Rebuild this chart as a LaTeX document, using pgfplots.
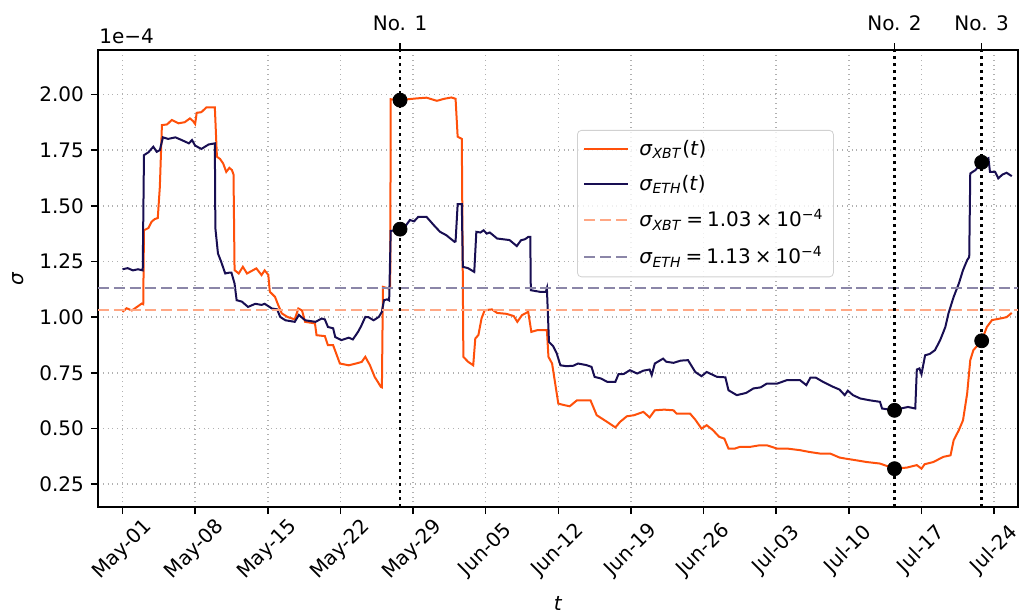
\documentclass[border=0pt]{standalone}
\usepackage{fontspec}
\setmainfont{DejaVu Sans}
\usepackage{pgfplots}
\pgfplotsset{compat=1.18}
\usetikzlibrary{calc}
\definecolor{xbt}{RGB}{255,80,10}
\definecolor{eth}{RGB}{24,14,82}
\definecolor{xbtl}{RGB}{255,167,132}
\definecolor{ethl}{RGB}{139,134,168}
\definecolor{gridc}{RGB}{176,176,176}
\newcommand{\sig}{\textit{σ}}
\newcommand{\eqs}{\hspace{0.2em}=\hspace{0.2em}}
\newcommand{\tms}{\hspace{0.2em}×\hspace{0.2em}}
\begin{document}
\begin{tikzpicture}
\begin{axis}[
  scale only axis, width=460pt, height=228.5pt,
  xmin=-2.36, xmax=86.3, ymin=0.148, ymax=2.199,
  clip=false,
  axis line style={line width=0.8pt},
  tick align=outside, major tick length=3.5pt,
  tick style={line width=0.8pt, black},
  xtick={0,7,14,21,28,35,42,49,56,63,70,77,84},
  xticklabels={May-01,May-08,May-15,May-22,May-29,Jun-05,Jun-12,Jun-19,Jun-26,Jul-03,Jul-10,Jul-17,Jul-24},
  xtick pos=bottom, ytick pos=left,
  ytick={0.25,0.5,0.75,1,1.25,1.5,1.75,2},
  yticklabel style={/pgf/number format/.cd, fixed, fixed zerofill, precision=2, assume math mode=true},
  xticklabel style={rotate=45, anchor=center, font=\normalsize},
  xticklabel shift=18pt,
  grid=major,
  grid style={dotted, gridc, line width=0.8pt},
  legend style={at={(axis description cs:0.5207,0.825)}, anchor=north west,
    draw=black!18, rounded corners=2pt, fill=white, fill opacity=0.8, text opacity=1,
    font=\normalsize, row sep=4.2pt, inner sep=3pt},
  legend cell align=left,
  legend image code/.code={\draw[#1] (0pt,0pt) -- (22pt,0pt); \path (25pt,0pt);},
]
\addplot[xbt, line width=1pt] coordinates {
(0,1.024) (0.4,1.04) (0.9,1.03) (1.4,1.046) (1.85,1.061) (2.0,1.058) (2.07,1.39) (2.5,1.40) (2.8,1.428) (3.1,1.44) (3.4,1.445) (3.6,1.585) (3.8,1.862) (4.3,1.865) (4.75,1.885) (5.4,1.87) (6.0,1.875) (6.5,1.892) (6.8,1.88) (7.0,1.867) (7.15,1.917) (7.6,1.92) (8.1,1.942) (8.9,1.942) (9.1,1.72) (9.4,1.71) (9.7,1.69) (10.0,1.652) (10.3,1.67) (10.55,1.66) (10.7,1.64) (10.8,1.211) (11.2,1.196) (11.6,1.226) (12.0,1.196) (12.9,1.219) (13.4,1.189) (13.7,1.21) (14.05,1.19) (14.2,1.114) (14.7,1.091) (14.95,1.061) (15.35,1.017) (15.9,1.001) (16.6,0.99) (16.95,1.039) (17.3,1.03) (17.6,0.979) (18.55,0.972) (18.7,0.919) (19.5,0.915) (19.8,0.874) (20.3,0.874) (20.95,0.792) (21.8,0.784) (22.5,0.792) (23.05,0.799) (23.4,0.822) (23.85,0.784) (24.3,0.732) (24.6,0.71) (24.9,0.687) (25.0,0.685) (25.1,1.136) (25.6,1.129) (25.8,1.13) (25.85,1.978) (26.75,1.974) (27.5,1.978) (28.4,1.982) (29.3,1.985) (30.3,1.971) (31.0,1.98) (31.7,1.986) (32.1,1.98) (32.3,1.81) (32.7,1.80) (32.85,0.822) (33.3,0.80) (33.8,0.784) (34.0,0.904) (34.3,0.92) (34.6,0.994) (34.9,1.031) (35.6,1.035) (36.1,1.019) (37.0,1.015) (37.7,1.005) (38.05,0.979) (38.5,1.009) (39.1,1.024) (39.4,0.934) (40.0,0.942) (40.9,0.942) (41.05,0.822) (41.4,0.792) (41.7,0.702) (42.0,0.612) (42.6,0.605) (43.1,0.60) (43.8,0.627) (45.1,0.627) (45.7,0.56) (46.7,0.53) (47.5,0.505) (47.95,0.53) (48.6,0.555) (49.3,0.56) (50.2,0.575) (50.8,0.55) (51.3,0.582) (52.2,0.585) (53.1,0.582) (53.4,0.567) (54.7,0.567) (55.2,0.54) (55.8,0.50) (56.3,0.515) (56.9,0.493) (57.5,0.463) (58.0,0.455) (58.4,0.41) (59.0,0.41) (59.5,0.418) (60.5,0.418) (61.4,0.425) (62.1,0.425) (63.1,0.41) (64.1,0.41) (65.3,0.403) (66.2,0.395) (67.2,0.388) (68.2,0.388) (69.1,0.37) (69.7,0.365) (70.4,0.36) (71.7,0.35) (73.0,0.343) (74.4,0.32) (75.6,0.325) (76.55,0.336) (77.0,0.32) (77.3,0.34) (78.15,0.35) (79.1,0.373) (79.8,0.38) (80.1,0.448) (80.6,0.493) (81.0,0.537) (81.4,0.657) (81.7,0.807) (82.0,0.852) (82.8,0.894) (83.3,0.956) (83.8,0.987) (84.6,0.994) (85.2,1.0) (85.7,1.019)
};
\addlegendentry{\sig\textsubscript{\textit{XBT}}(\textit{t})}
\addplot[eth, line width=1pt] coordinates {
(0,1.215) (0.5,1.22) (1.0,1.21) (1.5,1.215) (1.95,1.21) (2.07,1.727) (2.5,1.74) (2.97,1.765) (3.3,1.742) (3.6,1.75) (3.9,1.807) (4.4,1.80) (5.1,1.807) (5.7,1.795) (6.4,1.78) (6.7,1.795) (7.0,1.77) (7.6,1.755) (8.3,1.775) (8.9,1.78) (8.95,1.40) (9.2,1.286) (9.5,1.25) (9.9,1.196) (10.3,1.20) (10.5,1.20) (10.8,1.151) (11.0,1.076) (11.5,1.07) (12.1,1.046) (12.8,1.06) (13.4,1.055) (13.7,1.06) (14.4,1.039) (14.9,1.035) (15.2,1.001) (15.7,0.986) (16.6,0.979) (17.0,1.01) (17.6,0.986) (18.6,0.979) (19.2,0.994) (19.5,0.99) (19.8,0.956) (20.3,0.95) (20.5,0.911) (21.1,0.897) (21.8,0.908) (22.2,0.90) (22.7,0.934) (23.0,0.96) (23.4,1.001) (23.7,1.0) (24.2,0.986) (24.7,1.001) (25.0,1.024) (25.2,1.076) (25.5,1.08) (25.7,1.075) (25.85,1.387) (26.3,1.39) (26.75,1.395) (27.1,1.398) (27.7,1.436) (28.1,1.43) (28.5,1.45) (29.3,1.45) (30.0,1.413) (30.6,1.383) (31.2,1.368) (32.0,1.338) (32.1,1.34) (32.3,1.507) (32.7,1.507) (32.8,1.226) (33.3,1.22) (33.9,1.203) (34.1,1.383) (34.5,1.38) (34.8,1.39) (35.1,1.375) (35.4,1.38) (36.1,1.353) (37.3,1.346) (38.0,1.319) (38.4,1.345) (38.8,1.35) (39.1,1.36) (39.3,1.36) (39.35,1.121) (40.2,1.114) (40.8,1.114) (40.9,1.13) (41.1,0.889) (41.5,0.87) (41.85,0.837) (42.2,0.784) (42.8,0.78) (43.45,0.782) (43.9,0.792) (44.7,0.785) (45.2,0.777) (45.5,0.732) (46.1,0.725) (46.7,0.71) (47.5,0.71) (47.8,0.744) (48.3,0.745) (48.9,0.762) (49.6,0.747) (50.2,0.76) (50.8,0.765) (51.0,0.74) (51.3,0.792) (52.1,0.814) (52.4,0.80) (53.1,0.795) (53.8,0.805) (54.5,0.807) (55.2,0.754) (55.8,0.735) (56.3,0.754) (57.3,0.732) (58.1,0.73) (58.4,0.672) (59.2,0.65) (60.1,0.66) (60.8,0.68) (61.5,0.685) (62.1,0.702) (63.1,0.702) (64.0,0.717) (65.3,0.717) (65.9,0.695) (66.3,0.729) (66.8,0.729) (67.5,0.71) (68.5,0.687) (69.1,0.675) (69.6,0.65) (69.9,0.67) (70.4,0.65) (71.1,0.635) (72.0,0.627) (73.0,0.62) (73.2,0.59) (74.4,0.582) (75.0,0.59) (75.7,0.597) (76.4,0.59) (76.55,0.765) (76.8,0.77) (77.0,0.744) (77.35,0.829) (77.8,0.835) (78.3,0.852) (78.8,0.897) (79.3,0.956) (79.6,1.017) (80.1,1.091) (80.6,1.151) (81.0,1.211) (81.4,1.256) (81.6,1.27) (81.7,1.645) (82.2,1.66) (82.8,1.695) (83.45,1.713) (83.6,1.652) (84.1,1.652) (84.4,1.623) (84.8,1.64) (85.2,1.648) (85.7,1.633)
};
\addlegendentry{\sig\textsubscript{\textit{ETH}}(\textit{t})}
\addplot[xbtl, line width=1pt, dash pattern=on 5.5pt off 2.4pt] coordinates {(-2.36,1.03) (86.3,1.03)};
\addlegendentry{\sig\textsubscript{\textit{XBT}}\eqs1.03\tms10\textsuperscript{−4}}
\addplot[ethl, line width=1pt, dash pattern=on 5.5pt off 2.4pt] coordinates {(-2.36,1.13) (86.3,1.13)};
\addlegendentry{\sig\textsubscript{\textit{ETH}}\eqs1.13\tms10\textsuperscript{−4}}
\addplot[black, line width=1.3pt, dash pattern=on 1.3pt off 2.2pt, forget plot] coordinates {(26.75,0.148) (26.75,2.199)};
\addplot[black, line width=1.3pt, dash pattern=on 1.3pt off 2.2pt, forget plot] coordinates {(74.4,0.148) (74.4,2.199)};
\addplot[black, line width=1.3pt, dash pattern=on 1.3pt off 2.2pt, forget plot] coordinates {(82.8,0.148) (82.8,2.199)};
\addplot[only marks, mark=*, mark size=3.5pt, black, forget plot] coordinates {(26.75,1.974) (26.75,1.395) (74.4,0.582) (74.4,0.32) (82.8,1.695) (82.8,0.894)};
\coordinate (n1) at (axis cs:26.75,2.199);
\coordinate (n2) at (axis cs:74.4,2.199);
\coordinate (n3) at (axis cs:82.8,2.199);
\end{axis}
\foreach \c/\t in {n1/No. 1, n2/No. 2, n3/No. 3}{
  \draw[line width=0.8pt] (\c) -- ($(\c)+(0,3.5pt)$);
  \node[anchor=south, inner sep=0pt] at ($(\c)+(0,9.5pt)$) {\t};
}
\node[anchor=base west, inner sep=0pt] at ($(current axis.north west)+(0.5pt,3.5pt)$) {1e−4};
\node[rotate=90, anchor=center] at ($(current axis.west)+(-40pt,0)$) {\sig};
\node[anchor=center] at ($(current axis.south)+(0,-48pt)$) {\textit{t}};
\pgfresetboundingbox
\path ($(current axis.south west)+(-49pt,-52.5pt)$) rectangle ($(current axis.north east)+(2pt,25pt)$);
\end{tikzpicture}
\end{document}
